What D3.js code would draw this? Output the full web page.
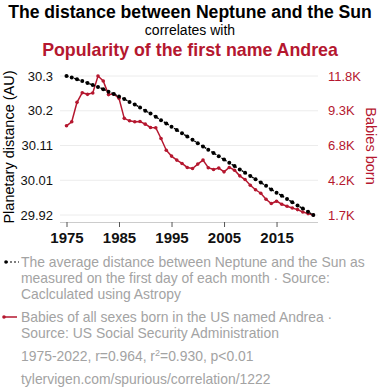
<!DOCTYPE html>
<html>
<head>
<meta charset="utf-8">
<script src="https://cdn.jsdelivr.net/npm/d3@7"></script>
<style>
  body { margin: 0; background: #fff; }
  svg { font-family: "Liberation Sans", Arial, sans-serif; display: block; }
</style>
</head>
<body>
<div id="viz"></div>
<script>
const years = d3.range(1975, 2023);

const distance = [
  30.298, 30.294, 30.289, 30.284, 30.279, 30.273, 30.268, 30.262, 30.255, 30.249,
  30.242, 30.235, 30.227, 30.220, 30.212, 30.203, 30.195, 30.186, 30.177, 30.168,
  30.159, 30.150, 30.141, 30.132, 30.123, 30.114, 30.105, 30.096, 30.087, 30.078,
  30.069, 30.060, 30.051, 30.042, 30.033, 30.024, 30.015, 30.006, 29.997, 29.987,
  29.978, 29.970, 29.961, 29.952, 29.943, 29.935, 29.926, 29.917
];

const babies = [
  8190, 8480, 9890, 10590, 10470, 10570, 11800, 11440, 10450, 10500,
  10180, 8730, 8550, 8480, 8500, 8310, 8070, 8050, 7270, 6420,
  5990, 5700, 5460, 5170, 5090, 5410, 5700, 5150, 5020, 5120,
  4850, 5170, 4970, 4560, 4290, 3880, 3550, 3300, 2860, 2550,
  2720, 2500, 2350, 2230, 2110, 1940, 1820, 1720
];

const leftTickLabels = ["29.92", "30.01", "30.11", "30.2", "30.3"];
const rightTickLabels = ["1.7K", "4.2K", "6.8K", "9.3K", "11.8K"];
const xTicks = [1975, 1985, 1995, 2005, 2015];

const red = "#b5172f";
const gray = "#a3a3a3";

const W = 380, H = 388;
const plot = { left: 66.5, right: 313.3, top: 76, bottom: 215 };

const svg = d3.select("#viz").append("svg")
  .attr("width", W)
  .attr("height", H);

// titles
svg.append("text")
  .attr("x", 190).attr("y", 17.5)
  .attr("text-anchor", "middle")
  .style("font-size", "17.6px")
  .style("font-weight", "bold")
  .text("The distance between Neptune and the Sun");

svg.append("text")
  .attr("x", 190).attr("y", 34.5)
  .attr("text-anchor", "middle")
  .style("font-size", "14px")
  .text("correlates with");

svg.append("text")
  .attr("x", 190).attr("y", 56)
  .attr("text-anchor", "middle")
  .style("font-size", "17.8px")
  .style("font-weight", "bold")
  .style("fill", red)
  .text("Popularity of the first name Andrea");

const x = d3.scaleLinear()
  .domain(d3.extent(years))
  .range([plot.left, plot.right]);

const yL = d3.scaleLinear()
  .domain(d3.extent(distance))
  .range([plot.bottom, plot.top]);

const yR = d3.scaleLinear()
  .domain(d3.extent(babies))
  .range([plot.bottom, plot.top]);

// ticks evenly spaced between data min and max
const [dMin, dMax] = yL.domain();
const leftTicks = leftTickLabels.map((t, i) => dMin + i * (dMax - dMin) / 4);

// gridlines
svg.append("g")
  .selectAll("line")
  .data(leftTicks)
  .enter()
  .append("line")
  .attr("x1", 60).attr("x2", 318)
  .attr("y1", d => yL(d)).attr("y2", d => yL(d))
  .attr("stroke", "#ececec")
  .attr("stroke-width", 1);

// left axis labels
const leftAxis = svg.append("g")
  .attr("transform", "translate(57,0)")
  .call(d3.axisLeft(yL).tickValues(leftTicks).tickSize(0).tickPadding(4)
    .tickFormat((d, i) => leftTickLabels[i]));
leftAxis.select(".domain").remove();
leftAxis.selectAll("text")
  .style("font-size", "13px")
  .style("font-family", "Liberation Sans, Arial, sans-serif")
  .attr("fill", "#111");

// right axis labels
const rightAxis = svg.append("g")
  .attr("transform", "translate(324,0)")
  .call(d3.axisRight(yL).tickValues(leftTicks).tickSize(0).tickPadding(4)
    .tickFormat((d, i) => rightTickLabels[i]));
rightAxis.select(".domain").remove();
rightAxis.selectAll("text")
  .style("font-size", "13px")
  .style("font-family", "Liberation Sans, Arial, sans-serif")
  .attr("fill", red);

// bottom axis
const xAxis = svg.append("g")
  .attr("transform", "translate(0,222)")
  .call(d3.axisBottom(x).tickValues(xTicks).tickSize(5).tickPadding(5)
    .tickFormat(d3.format("d")));
xAxis.select(".domain")
  .attr("d", "M60,0.5H318")
  .attr("stroke", "#cccccc");
xAxis.selectAll(".tick line").attr("stroke", "#555");
xAxis.selectAll("text")
  .style("font-size", "15px")
  .style("font-weight", "bold")
  .style("font-family", "Liberation Sans, Arial, sans-serif")
  .attr("fill", "#111");

// axis titles
svg.append("text")
  .attr("transform", "translate(14,147) rotate(-90)")
  .attr("text-anchor", "middle")
  .style("font-size", "14.5px")
  .text("Planetary distance (AU)");

svg.append("text")
  .attr("transform", "translate(366,146) rotate(90)")
  .attr("text-anchor", "middle")
  .style("font-size", "14.5px")
  .style("fill", red)
  .text("Babies born");

// red series
const babyData = years.map((yr, i) => ({ year: yr, value: babies[i] }));
const distData = years.map((yr, i) => ({ year: yr, value: distance[i] }));

svg.append("path")
  .datum(babyData)
  .attr("fill", "none")
  .attr("stroke", red)
  .attr("stroke-width", 1.5)
  .attr("d", d3.line().x(d => x(d.year)).y(d => yR(d.value)));

svg.selectAll("circle.baby")
  .data(babyData)
  .enter()
  .append("circle")
  .attr("class", "baby")
  .attr("cx", d => x(d.year))
  .attr("cy", d => yR(d.value))
  .attr("r", 1.8)
  .attr("fill", red);

// black series
svg.append("path")
  .datum(distData)
  .attr("fill", "none")
  .attr("stroke", "#000")
  .attr("stroke-width", 1.3)
  .attr("stroke-dasharray", "2,2")
  .attr("d", d3.line().x(d => x(d.year)).y(d => yL(d.value)));

svg.selectAll("circle.dist")
  .data(distData)
  .enter()
  .append("circle")
  .attr("class", "dist")
  .attr("cx", d => x(d.year))
  .attr("cy", d => yL(d.value))
  .attr("r", 2)
  .attr("fill", "#000");

// legend
const legend = svg.append("g").style("font-size", "13.9px").style("fill", gray);

legend.append("line")
  .attr("x1", 6).attr("x2", 19).attr("y1", 262).attr("y2", 262)
  .attr("stroke", "#000").attr("stroke-width", 1.2).attr("stroke-dasharray", "2,2");
legend.append("circle").attr("cx", 6).attr("cy", 262).attr("r", 1.8).attr("fill", "#000");

const legend1 = [
  "The average distance between Neptune and the Sun as",
  "measured on the first day of each month · Source:",
  "Caclculated using Astropy"
];
legend.selectAll("text.l1")
  .data(legend1)
  .enter()
  .append("text")
  .attr("class", "l1")
  .attr("x", 21)
  .attr("y", (d, i) => 266.5 + i * 16)
  .text(d => d);

legend.append("line")
  .attr("x1", 4).attr("x2", 17).attr("y1", 317).attr("y2", 317)
  .attr("stroke", red).attr("stroke-width", 1.5);
legend.append("circle").attr("cx", 4).attr("cy", 317).attr("r", 1.8).attr("fill", red);

const legend2 = [
  "Babies of all sexes born in the US named Andrea ·",
  "Source: US Social Security Administration"
];
legend.selectAll("text.l2")
  .data(legend2)
  .enter()
  .append("text")
  .attr("class", "l2")
  .attr("x", 21)
  .attr("y", (d, i) => 321.5 + i * 16)
  .text(d => d);

legend.append("text")
  .attr("x", 21).attr("y", 360.5)
  .html("1975-2022, r=0.964, r<tspan baseline-shift=\"super\" font-size=\"9px\">2</tspan>=0.930, p&lt;0.01");

legend.append("text")
  .attr("x", 21).attr("y", 383.5)
  .text("tylervigen.com/spurious/correlation/1222");
</script>
</body>
</html>
